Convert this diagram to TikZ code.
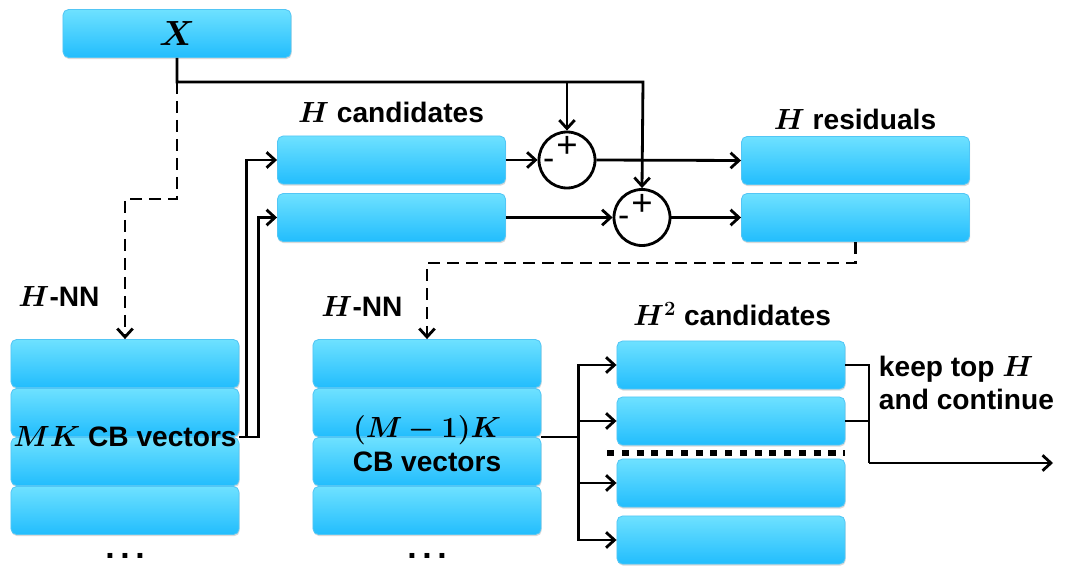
\documentclass[tikz,border=0pt]{standalone}
\usepackage{fontspec}
\setmainfont{Liberation Sans}
\usepackage{bm}
\usetikzlibrary{arrows.meta,shadows}
\definecolor{cbtop}{HTML}{6EE1FF}
\definecolor{cbbot}{HTML}{22BDFD}
\definecolor{cbedge}{HTML}{52C6F5}
\begin{document}
\begin{tikzpicture}[x=0.025cm, y=-0.025cm,
    cb/.style={draw=cbedge, line width=0.6pt, rounded corners=4pt,
        top color=cbtop, bottom color=cbbot, minimum width=5.7cm,
        minimum height=1.2cm, inner sep=0pt,
        drop shadow={shadow xshift=0.5pt, shadow yshift=-1.2pt, opacity=0.25, fill=black!60}},
    lbl/.style={font=\fontsize{20}{24}\selectfont\bfseries},
    sumc/.style={circle, draw, line width=2pt, minimum size=1.4cm, inner sep=0pt},
    wire/.style={line width=2pt, -{Straight Barb[length=6pt,width=11pt,line width=2pt]}},
    dwire/.style={wire, dash pattern=on 8.5pt off 5pt},
    plain/.style={line width=2pt},
    moredots/.style={font=\fontsize{24}{26}\selectfont\bfseries, inner sep=0pt}]
    \useasboundingbox (0,0) rectangle (1067,571);

    % input and first stage
    \node[cb, font=\fontsize{30}{32}\selectfont] (xin) at (177,33.5) {$\bm{X}$};
    \node[cb] (cand1) at (391.5,160) {};
    \node[cb] (cand2) at (391.5,217.5) {};
    \node[cb] (res1) at (855.5,160.5) {};
    \node[cb] (res2) at (855.5,217.5) {};
    \node[lbl] (candtxt) at (391,112) {$\bm{H}$ candidates};
    \node[lbl] (restxt) at (855,119) {$\bm{H}$ residuals};

    \node[sumc] (sum1) at (567,160) {};
    \node[sumc] (sum2) at (642,217.5) {};
    \foreach \s in {sum1,sum2}{
        \node[font=\fontsize{26}{28}\selectfont] at ([yshift=9pt]\s) {+};
        \node[font=\fontsize{24}{26}\selectfont] at ([xshift=-13pt,yshift=-3pt]\s) {-};
    }

    % codebook stacks
    \foreach \i/\y in {1/363.5,2/412.5,3/461.5,4/510.5}{
        \node[cb] (L\i) at (125,\y) {};
        \node[cb] (M\i) at (427,\y) {};
    }
    \node[lbl] (ltxt) at (125,437) {$\bm{MK}$ CB vectors};
    \node[lbl, align=center] (mtxt) at (427,444) {$\bm{(M-1)K}$\\CB vectors};
    \node[lbl] (lnn) at (59,296) {$\bm{H}$-NN};
    \node[lbl] (mnn) at (362,306) {$\bm{H}$-NN};
    \node[moredots] (ldots) at (125,556) {.\,.\,.};
    \node[moredots] (mdots) at (427,556) {.\,.\,.};

    % second stage candidates
    \foreach \i/\y in {1/365,2/421,3/483,4/540}{
        \node[cb] (C\i) at (731,\y) {};
    }
    \node[lbl] (c2txt) at (732,314) {$\bm{H^2}$ candidates};
    \node[lbl, align=left, anchor=west] (keeptxt) at (874,383) {keep top $\bm{H}$\\and continue};
    \draw[line width=3.6pt, dash pattern=on 5pt off 5.5pt] (607,453) -- (845,453);

    % connectors
    \coordinate (tapL) at (177,82);
    \coordinate (tapR) at (643,82);
    \draw[wire] (xin.south) -- (tapL) -- (tapR) -- (sum2.north);
    \draw[wire] (sum1.north |- tapL) -- (sum1.north);
    \draw[dwire] (tapL) -- ++(0,117) -| (L1.north);
    \draw[wire] (cand1.east) -- (sum1.west);
    \draw[wire] (cand2.east) -- (sum2.west);
    \draw[wire] (sum1.east) -- (res1.west);
    \draw[wire] (sum2.east) -- (res2.west);
    \draw[dwire] (res2.south) -- ++(0,21) -| (M1.north);

    \draw[wire] (L2.south east) -- ++(19,0) |- (cand2.west);
    \draw[wire] (L2.south east) -- ++(7,0) |- (cand1.west);

    \draw[plain] (M2.south east) -- ++(37,0) coordinate (trunk);
    \foreach \i in {1,...,4}
        \draw[wire] (trunk) |- (C\i.west);

    \coordinate (join) at (869,463);
    \coordinate (outend) at (1053,463);
    \draw[plain] (C1.east) -| (join);
    \draw[plain] (C2.east) -- (C2.east -| join);
    \draw[wire] (join) -- (outend);
\end{tikzpicture}
\end{document}
